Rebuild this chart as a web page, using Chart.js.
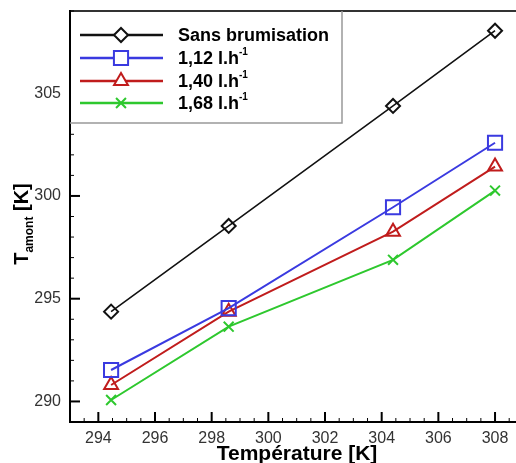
<!DOCTYPE html>
<html lang="fr">
<head>
    <meta charset="UTF-8">
    <script src="https://cdn.jsdelivr.net/npm/chart.js"></script>
    <title>T amont</title>
    <style>
        html, body { margin: 0; padding: 0; background: #fff; }
        #wrap { width: 516px; height: 463px; }
    </style>
</head>
<body>
    <div id="wrap"><canvas id="chart_div" width="516" height="463"></canvas></div>
    <script>
        // valeurs
        var temperature = [294.45, 298.6, 304.4, 308.0];
        var sansBrum = [294.37, 298.54, 304.38, 308.04];
        var debit112 = [291.53, 294.54, 299.45, 302.59];
        var debit140 = [290.80, 294.37, 298.26, 301.43];
        var debit168 = [290.07, 293.64, 296.89, 300.26];

        var xTicks = [294, 296, 298, 300, 302, 304, 306, 308];
        var yTicks = [290, 295, 300, 305];

        var legendNames = ['Sans brumisation', '1,12 l.h', '1,40 l.h', '1,68 l.h'];
        var legendSup = ['', '-1', '-1', '-1'];

        function pts(ys) {
            var out = [];
            for (var i = 0; i < temperature.length; i++) {
                out.push({x: temperature[i], y: ys[i]});
            }
            return out;
        }

        function serie(label, ys, color, style, radius, width) {
            return {
                label: label,
                data: pts(ys),
                borderColor: color,
                backgroundColor: 'rgba(255,255,255,0)',
                borderWidth: width,
                pointStyle: style,
                pointRadius: radius,
                pointBorderColor: color,
                pointBackgroundColor: 'rgba(255,255,255,0)',
                pointBorderWidth: 2,
                tension: 0
            };
        }

        var datasets = [
            serie(legendNames[0], sansBrum, '#111111', 'rectRot', 7, 1.6),
            serie(legendNames[1], debit112, '#3a3ae0', 'rect', 10, 2),
            serie(legendNames[2], debit140, '#c01c1c', 'triangle', 8, 2),
            serie(legendNames[3], debit168, '#2ec82e', 'crossRot', 7, 2)
        ];

        function noPad(s) {
            s.paddingTop = 0; s.paddingBottom = 0;
            s.paddingLeft = 0; s.paddingRight = 0;
        }

        // axes, graduations, legende et titres dessines a la main
        var decor = {
            id: 'decor',
            afterDatasetsDraw: function(chart) {
                var c = chart.ctx;
                var a = chart.chartArea;
                var xs = chart.scales.x, ys = chart.scales.y;
                c.save();

                // cadre
                c.strokeStyle = '#333';
                c.lineWidth = 2;
                c.beginPath();
                c.moveTo(a.left, a.top); c.lineTo(a.right, a.top);
                c.stroke();
                c.strokeStyle = '#000';
                c.beginPath();
                c.moveTo(a.left, a.top - 1); c.lineTo(a.left, a.bottom);
                c.lineTo(a.right, a.bottom);
                c.stroke();

                // graduations x (vers l'interieur)
                for (var v = 293; v <= 308.74; v += 0.5) {
                    var px = xs.getPixelForValue(v);
                    var major = xTicks.indexOf(v) >= 0;
                    c.lineWidth = major ? 2 : 1;
                    c.beginPath();
                    c.moveTo(px, a.bottom);
                    c.lineTo(px, a.bottom - (major ? 10 : 4));
                    c.stroke();
                }
                // graduations y
                for (var w = 289; w <= 309; w += 1) {
                    var py = ys.getPixelForValue(w);
                    var maj = yTicks.indexOf(w) >= 0;
                    c.lineWidth = maj ? 2 : 1;
                    c.beginPath();
                    c.moveTo(a.left, py);
                    c.lineTo(a.left + (maj ? 10 : 4), py);
                    c.stroke();
                }

                // legende
                var bx = a.left, by = a.top, bw = 272, bh = 112;
                c.fillStyle = '#fff';
                c.fillRect(bx + 1, by + 1, bw - 1, bh - 1);
                c.strokeStyle = '#999';
                c.lineWidth = 1.5;
                c.beginPath();
                c.moveTo(bx, by + bh); c.lineTo(bx + bw, by + bh); c.lineTo(bx + bw, by);
                c.stroke();

                var rows = [35, 58, 81, 103];
                for (var i = 0; i < datasets.length; i++) {
                    var d = datasets[i];
                    var ry = rows[i];
                    c.strokeStyle = d.borderColor;
                    c.lineWidth = 2.5;
                    c.beginPath();
                    c.moveTo(80, ry); c.lineTo(163, ry);
                    c.stroke();
                    c.fillStyle = '#fff';
                    c.lineWidth = 2;
                    Chart.helpers.drawPoint(c, {pointStyle: d.pointStyle, radius: d.pointRadius, borderWidth: 2, rotation: 0}, 121, ry);
                    c.fillStyle = '#000';
                    c.font = 'bold 18px "Liberation Sans", Arial, sans-serif';
                    c.textBaseline = 'middle';
                    c.textAlign = 'left';
                    c.fillText(legendNames[i], 178, ry + 1);
                    if (legendSup[i]) {
                        var tw = c.measureText(legendNames[i]).width;
                        c.font = 'bold 10px "Liberation Sans", Arial, sans-serif';
                        c.fillText(legendSup[i], 178 + tw, ry - 6);
                    }
                }

                // titre x
                c.fillStyle = '#000';
                c.font = 'bold 21px "Liberation Sans", Arial, sans-serif';
                c.textAlign = 'center';
                c.textBaseline = 'alphabetic';
                c.fillText('Température [K]', 297, 460);

                // titre y
                c.translate(28, 224);
                c.rotate(-Math.PI / 2);
                c.textAlign = 'left';
                c.font = 'bold 20px "Liberation Sans", Arial, sans-serif';
                var t1 = c.measureText('T').width;
                c.font = 'bold 12px "Liberation Sans", Arial, sans-serif';
                var t2 = c.measureText('amont').width;
                c.font = 'bold 20px "Liberation Sans", Arial, sans-serif';
                var t3 = c.measureText(' [K]').width;
                var x0 = -(t1 + t2 + t3) / 2;
                c.fillText('T', x0, 0);
                c.font = 'bold 12px "Liberation Sans", Arial, sans-serif';
                c.fillText('amont', x0 + t1, 5);
                c.font = 'bold 20px "Liberation Sans", Arial, sans-serif';
                c.fillText(' [K]', x0 + t1 + t2, 0);

                c.restore();
            }
        };

        var config = {
            type: 'line',
            data: { datasets: datasets },
            options: {
                responsive: false,
                animation: false,
                layout: { autoPadding: false, padding: { top: 11, right: 0, left: 0, bottom: 0 } },
                plugins: { legend: { display: false }, tooltip: { enabled: false } },
                scales: {
                    x: {
                        type: 'linear',
                        min: 293,
                        max: 308.74,
                        grid: { display: false, drawTicks: false },
                        border: { display: false },
                        afterBuildTicks: function(s) { s.ticks = xTicks.map(function(v) { return {value: v}; }); },
                        afterFit: function(s) { s.height = 41; noPad(s); },
                        ticks: {
                            padding: 7,
                            color: '#333',
                            font: { family: '"Liberation Sans", Arial, sans-serif', size: 16 },
                            maxRotation: 0
                        }
                    },
                    y: {
                        type: 'linear',
                        min: 289,
                        max: 309,
                        grid: { display: false, drawTicks: false },
                        border: { display: false },
                        afterBuildTicks: function(s) { s.ticks = yTicks.map(function(v) { return {value: v}; }); },
                        afterFit: function(s) { s.width = 70; noPad(s); },
                        ticks: {
                            padding: 9,
                            color: '#333',
                            font: { family: '"Liberation Sans", Arial, sans-serif', size: 16 }
                        }
                    }
                }
            },
            plugins: [decor]
        };

        var ctx = document.getElementById('chart_div');
        var myChart = new Chart(ctx, config);
    </script>
</body>
</html>
